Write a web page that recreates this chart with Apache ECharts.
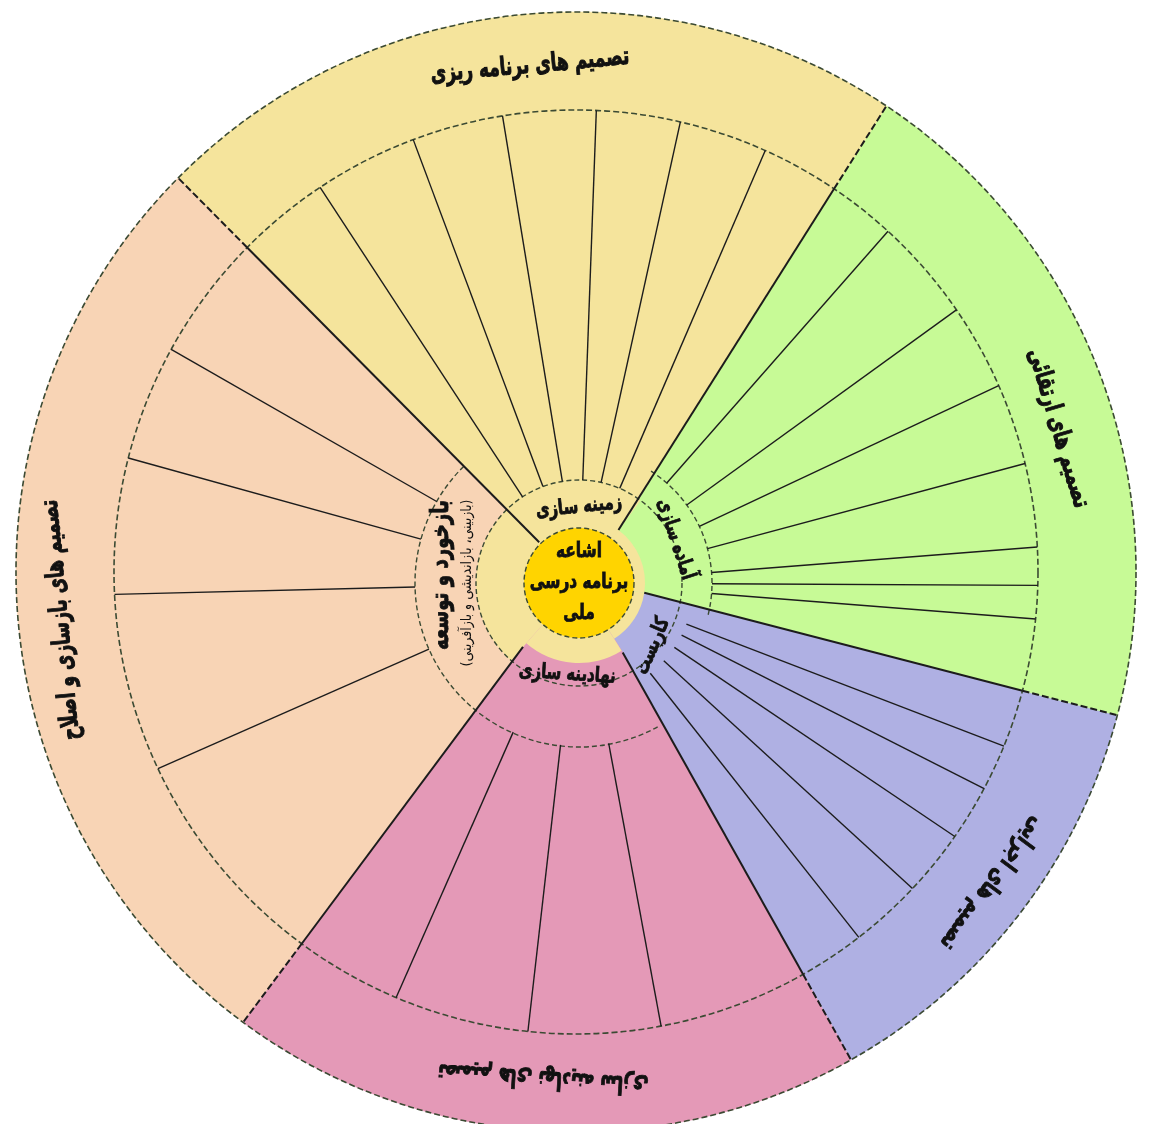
<!DOCTYPE html>
<html><head><meta charset="utf-8">
<script src="https://cdn.jsdelivr.net/npm/echarts@6/dist/echarts.min.js"></script>
<style>html,body{margin:0;padding:0;background:#fff}#c{width:1169px;height:1124px}</style>
</head><body><div id="c"></div>
<script>
// ================= data =================
// sectors in counter-clockwise order; angles in degrees (0 = east, CCW positive)
const sectorKeys     = ['blue', 'green', 'yellow', 'peach', 'pink'];
// sector boundary lines: angle at the outer rim and angle at the hub end
const boundOuterAng  = [-60.3, -13.8, 57.2, 134.7, 232.6];
const boundInnerAng  = [-57.8, -8.5, 53.3, 134.3, 228.8];
const innerLabels    = ['کاربست', 'آماده سازی', 'زمینه سازی', 'بازخورد و توسعه', 'نهادینه سازی'];
const outerLabels    = ['تصمیم های اجرایی', 'تصمیم های ارتقائی', 'تصمیم های برنامه ریزی', 'تصمیم های بازسازی و اصلاح', 'تصمیم های نهادینه سازی'];
const centerLabel    = 'اشاعه\nبرنامه درسی\nملی';
const subLabel       = '(بازبینی، بازاندیشی و بازآفرینی)';
// interior spoke angles (cell dividers) of each sector
const blueSpokes   = [-51.7, -42.5, -34.0, -26.9, -21.0];
const greenSpokes  = [-4.5, -0.3, 4.5, 15.0, 25.2, 35.9, 48.7];
const yellowSpokes = [66.7, 77.6, 87.9, 99.3, 110.5, 123.2];
const peachSpokes  = [150.2, 164.5, 181.4, 203.8];
const pinkSpokes   = [246.2, 263.5, 280.5];

// ================= layout / style =================
const OUT_C = [576, 572];          // centre of outer rings
const IN_C  = [579, 583];          // centre of the hub
const R = { out: 560, band: 462, gold: 55, ring: 103 };
const paleOuter   = [66, 66, 103, 103, 80];    // pale-yellow hub part of each sector
const cellInner   = [115, 133, 103, 164, 163]; // where the cell spokes start
const boundInnerR = [82, 66, 66, 57, 85];      // hub end of each sector boundary
const fillColors  = { blue: '#afb0e3', green: '#c7fa96', yellow: '#f5e49c', peach: '#f8d4b5', pink: '#e499b7' };
const paleColor = '#f5e49c', goldColor = '#ffd400', dashColor = '#3b4a33', lineColor = '#1c1c1c', textColor = '#111';
const FONT = '"DejaVu Sans Condensed", "DejaVu Sans", sans-serif';
const spokeSets = [blueSpokes, greenSpokes, yellowSpokes, peachSpokes, pinkSpokes];

// ================= helpers =================
function ctr(api) { return api.coord([0, 0]); }
function px(api, r) { const c = ctr(api), p = api.coord([r, 0]); return Math.hypot(p[0] - c[0], p[1] - c[1]); }
function unit(api, a) { const c = ctr(api), p = api.coord([100, a]); const l = Math.hypot(p[0] - c[0], p[1] - c[1]); return [(p[0] - c[0]) / l, (p[1] - c[1]) / l]; }
function cang(api, a) { const u = unit(api, a); return Math.atan2(u[1], u[0]); }
function ccwPair(s, e) { while (e >= s) e -= 2 * Math.PI; return [s, e]; }
function rayHit(P, u, C, Rr) { // distance along P + t*u to circle (C, Rr)
  const w = [P[0] - C[0], P[1] - C[1]], b = w[0] * u[0] + w[1] * u[1];
  return -b + Math.sqrt(b * b - (w[0] * w[0] + w[1] * w[1] - Rr * Rr));
}
function along(P, u, t) { return [P[0] + t * u[0], P[1] + t * u[1]]; }
function boundary(api, i) { // hub point Q, rim point P, band crossing B
  const c = ctr(api);
  const Q = api.coord([boundInnerR[i], boundInnerAng[i]]);
  const uo = unit(api, boundOuterAng[i]);
  const P = along(c, uo, rayHit(c, uo, OUT_C, R.out));
  const l = Math.hypot(P[0] - Q[0], P[1] - Q[1]), d = [(P[0] - Q[0]) / l, (P[1] - Q[1]) / l];
  const B = along(Q, d, rayHit(Q, d, OUT_C, R.band));
  return { Q, P, B };
}

// ================= derived series data =================
const idx5 = sectorKeys.map((k, i) => [i]);
const paleData = sectorKeys.map((k, i) => [boundInnerAng[i], boundInnerAng[(i + 1) % 5], paleOuter[i]]);
const spokeData = [];
spokeSets.forEach((set, i) => set.forEach(a => spokeData.push([a, cellInner[i]])));
const hubArcs = [
  [boundOuterAng[1], boundOuterAng[2], cellInner[1]],
  [boundOuterAng[3], boundOuterAng[0] + 360, cellInner[3]]
];
// [angle, radius, rotation, textIndex]
const outerLabelData = [
  [-36.8, 520, -126.8, 0], [16.6, 503, -73.4, 1], [95.2, 508, 5.2, 2], [185.3, 517, 95.3, 3], [-93.7, 507, -183.7, 4]
];
// [angle, radius, rotation, textIndex, kind]
const hubLabelData = [
  [-40.5, 97, 67, 0, 1], [24.4, 106, -72, 1, 1], [90, 76, 6, 2, 1], [176.7, 138, 90, 3, 1], [-97.3, 92, -4, 4, 1],
  [180, 112, 90, 0, 2], [0, 0, 0, 0, 3]
];

const base = { type: 'custom', silent: true, clip: false, animation: false };
const chart = echarts.init(document.getElementById('c'), null, { renderer: 'canvas' });
chart.setOption({
  backgroundColor: '#ffffff',
  animation: false,
  polar: [{ center: OUT_C, radius: R.out }, { center: IN_C, radius: R.out }],
  angleAxis: [
    { polarIndex: 0, type: 'value', min: 0, max: 360, startAngle: 0, clockwise: false, show: false },
    { polarIndex: 1, type: 'value', min: 0, max: 360, startAngle: 0, clockwise: false, show: false }
  ],
  radiusAxis: [
    { polarIndex: 0, type: 'value', min: 0, max: R.out, show: false },
    { polarIndex: 1, type: 'value', min: 0, max: R.out, show: false }
  ],
  series: [
    Object.assign({}, base, { // sector fills: bounded by the boundary lines and the outer circle
      coordinateSystem: 'polar', polarIndex: 1, z: 1, data: idx5,
      renderItem(p, api) {
        const i = api.value(0), j = (i + 1) % 5, c = ctr(api);
        const b0 = boundary(api, i), b1 = boundary(api, j);
        const [s, e] = ccwPair(Math.atan2(b0.P[1] - OUT_C[1], b0.P[0] - OUT_C[0]), Math.atan2(b1.P[1] - OUT_C[1], b1.P[0] - OUT_C[0]));
        const pts = [c, b0.Q, b0.P];
        for (let b = s - 0.01; b > e; b -= 0.01) pts.push([OUT_C[0] + R.out * Math.cos(b), OUT_C[1] + R.out * Math.sin(b)]);
        pts.push(b1.P, b1.Q);
        const col = fillColors[sectorKeys[i]];
        return { type: 'polygon', shape: { points: pts }, style: { fill: col, stroke: col, lineWidth: 0.6 } };
      }
    }),
    Object.assign({}, base, { // pale hub parts
      coordinateSystem: 'polar', polarIndex: 1, z: 2, data: paleData,
      renderItem(p, api) {
        const c = ctr(api), [s, e] = ccwPair(cang(api, api.value(0)), cang(api, api.value(1)));
        return { type: 'sector', shape: { cx: c[0], cy: c[1], r0: 0, r: px(api, api.value(2)), startAngle: s, endAngle: e, clockwise: false }, style: { fill: paleColor } };
      }
    }),
    Object.assign({}, base, { // outer circle & band circle (dashed)
      coordinateSystem: 'polar', polarIndex: 0, z: 4, data: [[R.out], [R.band]],
      renderItem(p, api) {
        const c = ctr(api);
        return { type: 'circle', shape: { cx: c[0], cy: c[1], r: px(api, api.value(0)) }, style: { fill: null, stroke: dashColor, lineWidth: 1.6, lineDash: [6, 3] } };
      }
    }),
    Object.assign({}, base, { // hub circles: ring + gold
      coordinateSystem: 'polar', polarIndex: 1, z: 4, data: [[R.ring, 0], [R.gold, 1]],
      renderItem(p, api) {
        const c = ctr(api);
        return { type: 'circle', shape: { cx: c[0], cy: c[1], r: px(api, api.value(0)) },
          style: { fill: api.value(1) ? goldColor : null, stroke: dashColor, lineWidth: 1.4, lineDash: [5, 3] } };
      }
    }),
    Object.assign({}, base, { // dashed inner arcs where cells start
      coordinateSystem: 'polar', polarIndex: 1, z: 4, data: hubArcs,
      renderItem(p, api) {
        const c = ctr(api), [s, e] = ccwPair(cang(api, api.value(0)), cang(api, api.value(1)));
        return { type: 'arc', shape: { cx: c[0], cy: c[1], r: px(api, api.value(2)), startAngle: s, endAngle: e, clockwise: false },
          style: { fill: null, stroke: dashColor, lineWidth: 1.4, lineDash: [5, 3] } };
      }
    }),
    Object.assign({}, base, { // sector boundaries: solid in the cell area, dashed across the outer band
      coordinateSystem: 'polar', polarIndex: 1, z: 5, data: idx5,
      renderItem(p, api) {
        const b = boundary(api, api.value(0));
        return { type: 'group', children: [
          { type: 'line', shape: { x1: b.Q[0], y1: b.Q[1], x2: b.B[0], y2: b.B[1] }, style: { stroke: lineColor, lineWidth: 2 } },
          { type: 'line', shape: { x1: b.B[0], y1: b.B[1], x2: b.P[0], y2: b.P[1] }, style: { stroke: lineColor, lineWidth: 2, lineDash: [7, 3] } }
        ] };
      }
    }),
    Object.assign({}, base, { // solid cell spokes
      coordinateSystem: 'polar', polarIndex: 1, z: 5, data: spokeData,
      renderItem(p, api) {
        const c = ctr(api), a = api.value(0), u = unit(api, a), p1 = api.coord([api.value(1), a]);
        const p2 = along(c, u, rayHit(c, u, OUT_C, R.band));
        return { type: 'line', shape: { x1: p1[0], y1: p1[1], x2: p2[0], y2: p2[1] }, style: { stroke: lineColor, lineWidth: 1.4 } };
      }
    }),
    Object.assign({}, base, { // outer band labels
      coordinateSystem: 'polar', polarIndex: 0, z: 6, data: outerLabelData,
      renderItem(p, api) {
        const pt = api.coord([api.value(1), api.value(0)]);
        return { type: 'text', x: pt[0], y: pt[1], rotation: api.value(2) * Math.PI / 180, scaleX: 0.9, scaleY: 1.2,
          style: { text: outerLabels[api.value(3)], font: 'bold 21px ' + FONT, fill: textColor, stroke: textColor, lineWidth: 0.8, align: 'center', verticalAlign: 'middle' } };
      }
    }),
    Object.assign({}, base, { // hub labels
      coordinateSystem: 'polar', polarIndex: 1, z: 6, data: hubLabelData,
      renderItem(p, api) {
        const kind = api.value(4), idx = api.value(3);
        const pt = api.coord([api.value(1), api.value(0)]);
        let text, font, sw = 0.7, sx = 0.92, sy = 1.15;
        if (kind === 1) { text = innerLabels[idx]; font = (idx === 3 ? 'bold 22px ' : 'bold 18px ') + FONT; }
        else if (kind === 2) { text = subLabel; font = '14px ' + FONT; sw = 0; sx = 1; sy = 1.05; }
        else { text = centerLabel; font = 'bold 18px ' + FONT; sx = 0.95; }
        const style = { text, font, fill: textColor, align: 'center', verticalAlign: 'middle' };
        if (sw) { style.stroke = textColor; style.lineWidth = sw; }
        if (kind === 3) style.lineHeight = 27;
        return { type: 'text', x: pt[0], y: pt[1], rotation: api.value(2) * Math.PI / 180, scaleX: sx, scaleY: sy, style };
      }
    })
  ]
});
</script>
</body></html>
